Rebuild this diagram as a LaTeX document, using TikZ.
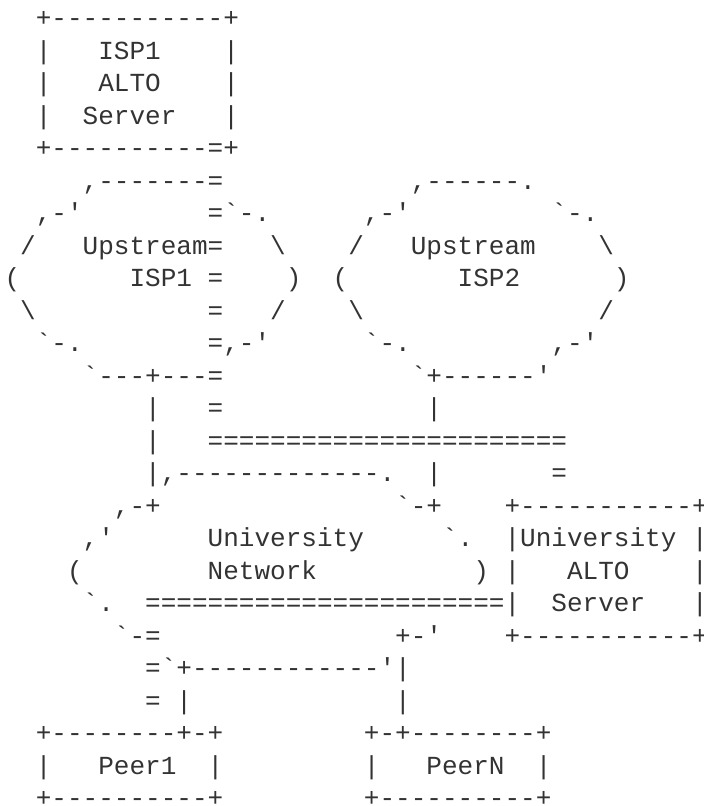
\documentclass[tikz,border=0pt]{standalone}
\usepackage{fontspec}
\setmonofont{Liberation Mono}
\definecolor{asciigray}{HTML}{333333}
\newcommand{\bsl}{\textbackslash}
\tikzset{asciirow/.style={anchor=base west,inner sep=0pt,outer sep=0pt,text depth=0pt,
  font=\ttfamily\fontsize{10}{12.48}\selectfont,text=asciigray}}
\begin{document}
\begin{tikzpicture}[x=6pt,y=12.48pt]
\useasboundingbox (-1.73pt,10.29pt) rectangle (268.57pt,-299.21pt);
% ISP1 ALTO server
\node[asciirow] (row1) at (0,0) {~~+-----------+};
\node[asciirow] (row2) at (0,-1) {~~|~~~ISP1~~~~|};
\node[asciirow] (row3) at (0,-2) {~~|~~~ALTO~~~~|};
\node[asciirow] (row4) at (0,-3) {~~|~~Server~~~|};
\node[asciirow] (row5) at (0,-4) {~~+----------=+};
% upstream clouds
\node[asciirow] (row6) at (0,-5) {~~~~~,-------=~~~~~~~~~~~~,------.};
\node[asciirow] (row7) at (0,-6) {~~,-'~~~~~~~~=`-.~~~~~~,-'~~~~~~~~~`-.};
\node[asciirow] (row8) at (0,-7) {~/~~~Upstream=~~~\bsl~~~~/~~~Upstream~~~~\bsl};
\node[asciirow] (row9) at (0,-8) {(~~~~~~~ISP1~=~~~~)~~(~~~~~~~ISP2~~~~~~)};
\node[asciirow] (row10) at (0,-9) {~\bsl~~~~~~~~~~~=~~~/~~~~\bsl~~~~~~~~~~~~~~~/};
\node[asciirow] (row11) at (0,-10) {~~`-.~~~~~~~~=,-'~~~~~~`-.~~~~~~~~~,-'};
\node[asciirow] (row12) at (0,-11) {~~~~~`---+---=~~~~~~~~~~~~`+------'};
\node[asciirow] (row13) at (0,-12) {~~~~~~~~~|~~~=~~~~~~~~~~~~~|};
\node[asciirow] (row14) at (0,-13) {~~~~~~~~~|~~~=======================};
% university network and its ALTO server
\node[asciirow] (row15) at (0,-14) {~~~~~~~~~|,-------------.~~|~~~~~~~=};
\node[asciirow] (row16) at (0,-15) {~~~~~~~,-+~~~~~~~~~~~~~~~`-+~~~~+-----------+};
\node[asciirow] (row17) at (0,-16) {~~~~~,'~~~~~~University~~~~~`.~~|University~|};
\node[asciirow] (row18) at (0,-17) {~~~~(~~~~~~~~Network~~~~~~~~~~)~|~~~ALTO~~~~|};
\node[asciirow] (row19) at (0,-18) {~~~~~`.~~=======================|~~Server~~~|};
\node[asciirow] (row20) at (0,-19) {~~~~~~~`-=~~~~~~~~~~~~~~~+-'~~~~+-----------+};
\node[asciirow] (row21) at (0,-20) {~~~~~~~~~=`+------------'|};
\node[asciirow] (row22) at (0,-21) {~~~~~~~~~=~|~~~~~~~~~~~~~|};
% peers
\node[asciirow] (row23) at (0,-22) {~~+--------+-+~~~~~~~~~+-+--------+};
\node[asciirow] (row24) at (0,-23) {~~|~~~Peer1~~|~~~~~~~~~|~~~PeerN~~|};
\node[asciirow] (row25) at (0,-24) {~~+----------+~~~~~~~~~+----------+};
\end{tikzpicture}
\end{document}
